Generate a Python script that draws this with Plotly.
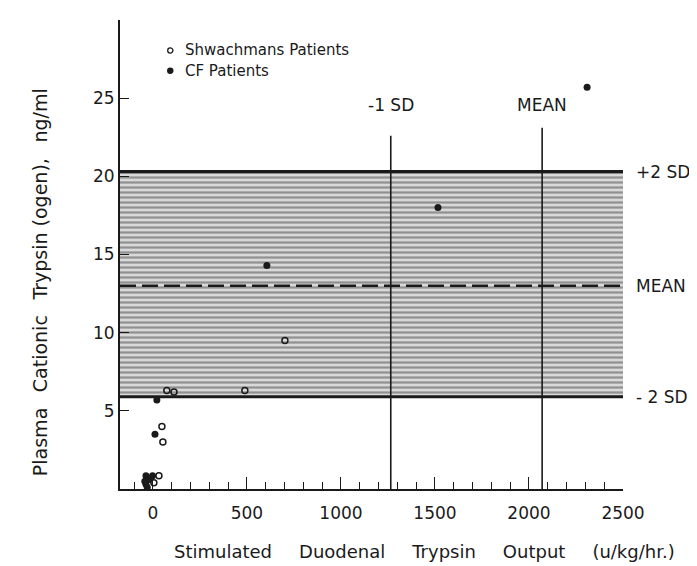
import plotly.graph_objects as go

# ---- data ----
shw_x = [5, 32, 74, 112, 48, 53, 489, 702]
shw_y = [0.4, 0.85, 6.3, 6.2, 4.0, 3.0, 6.3, 9.5]
cf_x = [-37, -37, -16, -43, -2, -30, 21, 11, 606, 1516, 2309]
cf_y = [0.85, 0.3, 0.6, 0.5, 0.85, 0.1, 5.7, 3.5, 14.3, 18.0, 25.7]

band_low = 5.9     # -2 SD
band_mean = 13.0   # MEAN
band_high = 20.3   # +2 SD
sd_minus1_x = 1265
mean_x = 2070

legend_names = ["Shwachmans Patients", "CF Patients"]
x_ticks = [0, 500, 1000, 1500, 2000, 2500]
y_ticks = [5, 10, 15, 20, 25]
x_range = [-175, 2500]
y_range = [0, 30]

FONT = "DejaVu Sans"
INK = "#1a1a1a"

fig = go.Figure()

# shaded normal range band
fig.add_trace(go.Scatter(
    x=[x_range[0], x_range[1], x_range[1], x_range[0], x_range[0]],
    y=[band_low, band_low, band_high, band_high, band_low],
    fill="toself", mode="lines", line=dict(width=0),
    fillcolor="#cfcfcf",
    fillpattern=dict(shape="-", fgcolor="#4a4a4a", bgcolor="#d9d9d9", size=5, solidity=0.45),
    hoverinfo="skip", showlegend=False))

for yv in (band_low, band_high):
    fig.add_trace(go.Scatter(x=x_range, y=[yv, yv], mode="lines",
                             line=dict(color=INK, width=3.2),
                             hoverinfo="skip", showlegend=False))
fig.add_trace(go.Scatter(x=x_range, y=[band_mean, band_mean], mode="lines",
                         line=dict(color=INK, width=2.6, dash="16px,6px"),
                         hoverinfo="skip", showlegend=False))

# vertical reference lines
fig.add_trace(go.Scatter(x=[sd_minus1_x, sd_minus1_x], y=[0, 22.6], mode="lines",
                         line=dict(color=INK, width=1.6), hoverinfo="skip", showlegend=False))
fig.add_trace(go.Scatter(x=[mean_x, mean_x], y=[0, 23.1], mode="lines",
                         line=dict(color=INK, width=1.6), hoverinfo="skip", showlegend=False))

# data
fig.add_trace(go.Scatter(x=shw_x, y=shw_y, mode="markers", name=legend_names[0],
                         showlegend=False,
                         marker=dict(symbol="circle-open", size=6, color=INK,
                                     line=dict(width=1.5, color=INK))))
fig.add_trace(go.Scatter(x=cf_x, y=cf_y, mode="markers", name=legend_names[1],
                         showlegend=False,
                         marker=dict(symbol="circle", size=7, color=INK)))

# hand-placed legend
leg_font = dict(family=FONT, size=15, color=INK)
for i, name in enumerate(legend_names):
    yy = 0.935 - i * 0.043
    filled = (i == 1)
    fig.add_shape(type="circle", xref="paper", yref="paper",
                  xsizemode="pixel", ysizemode="pixel",
                  xanchor=0.1, yanchor=yy, x0=-2.6, x1=2.6, y0=-2.6, y1=2.6,
                  line=dict(color=INK, width=1.3),
                  fillcolor=INK if filled else "white")
    fig.add_annotation(x=0.126, y=yy, xref="paper", yref="paper", text=name,
                       showarrow=False, xanchor="left", yanchor="middle", font=leg_font)

ann_font = dict(family=FONT, size=17, color=INK)
fig.add_annotation(x=sd_minus1_x, y=23.8, text="-1 SD", showarrow=False,
                   xref="x", yref="y", font=ann_font, yanchor="bottom")
fig.add_annotation(x=mean_x, y=23.8, text="MEAN", showarrow=False,
                   xref="x", yref="y", font=ann_font, yanchor="bottom")
for yv, t in ((band_high, "+2 SD"), (band_mean, "MEAN"), (band_low, "- 2 SD")):
    fig.add_annotation(x=1.022, y=yv, xref="paper", yref="y", text=t,
                       showarrow=False, xanchor="left", yanchor="middle", font=ann_font)

# axis titles as annotations
fig.add_annotation(x=0.605, y=-0.133, xref="paper", yref="paper",
                   text="Stimulated\u2003\u2002Duodenal\u2003\u2002Trypsin\u2003\u2002Output\u2003\u2002(u/kg/hr.)",
                   showarrow=False, xanchor="center", yanchor="middle",
                   font=dict(family=FONT, size=18, color=INK))
fig.add_annotation(x=-0.16, y=0.44, xref="paper", yref="paper",
                   text="Plasma\u2002 Cationic\u2002 Trypsin (ogen),\u2002 ng/ml",
                   textangle=-90, showarrow=False, xanchor="center", yanchor="middle",
                   font=dict(family=FONT, size=19, color=INK))

fig.update_layout(
    width=697, height=566,
    margin=dict(l=112, r=82, t=12, b=85),
    paper_bgcolor="white", plot_bgcolor="white",
    font=dict(family=FONT, size=17, color=INK),
    showlegend=False,
)
fig.update_xaxes(range=x_range, tickvals=x_ticks, ticktext=[str(v) for v in x_ticks],
                 showgrid=False, zeroline=False, showline=True, linecolor=INK, linewidth=1.6,
                 ticks="inside", ticklen=12, tickwidth=1.4, tickcolor=INK,
                 ticklabelstandoff=8,
                 minor=dict(dtick=100, ticks="inside", ticklen=7, tickwidth=1.2, tickcolor=INK),
                 tickfont=dict(family=FONT, size=17, color=INK))
fig.update_yaxes(range=y_range, tickvals=y_ticks, ticktext=[str(v) for v in y_ticks],
                 showgrid=False, zeroline=False, showline=True, linecolor=INK, linewidth=2,
                 ticks="inside", ticklen=9, tickwidth=1.4, tickcolor=INK,
                 tickfont=dict(family=FONT, size=17, color=INK))

fig.write_html("out.html")
